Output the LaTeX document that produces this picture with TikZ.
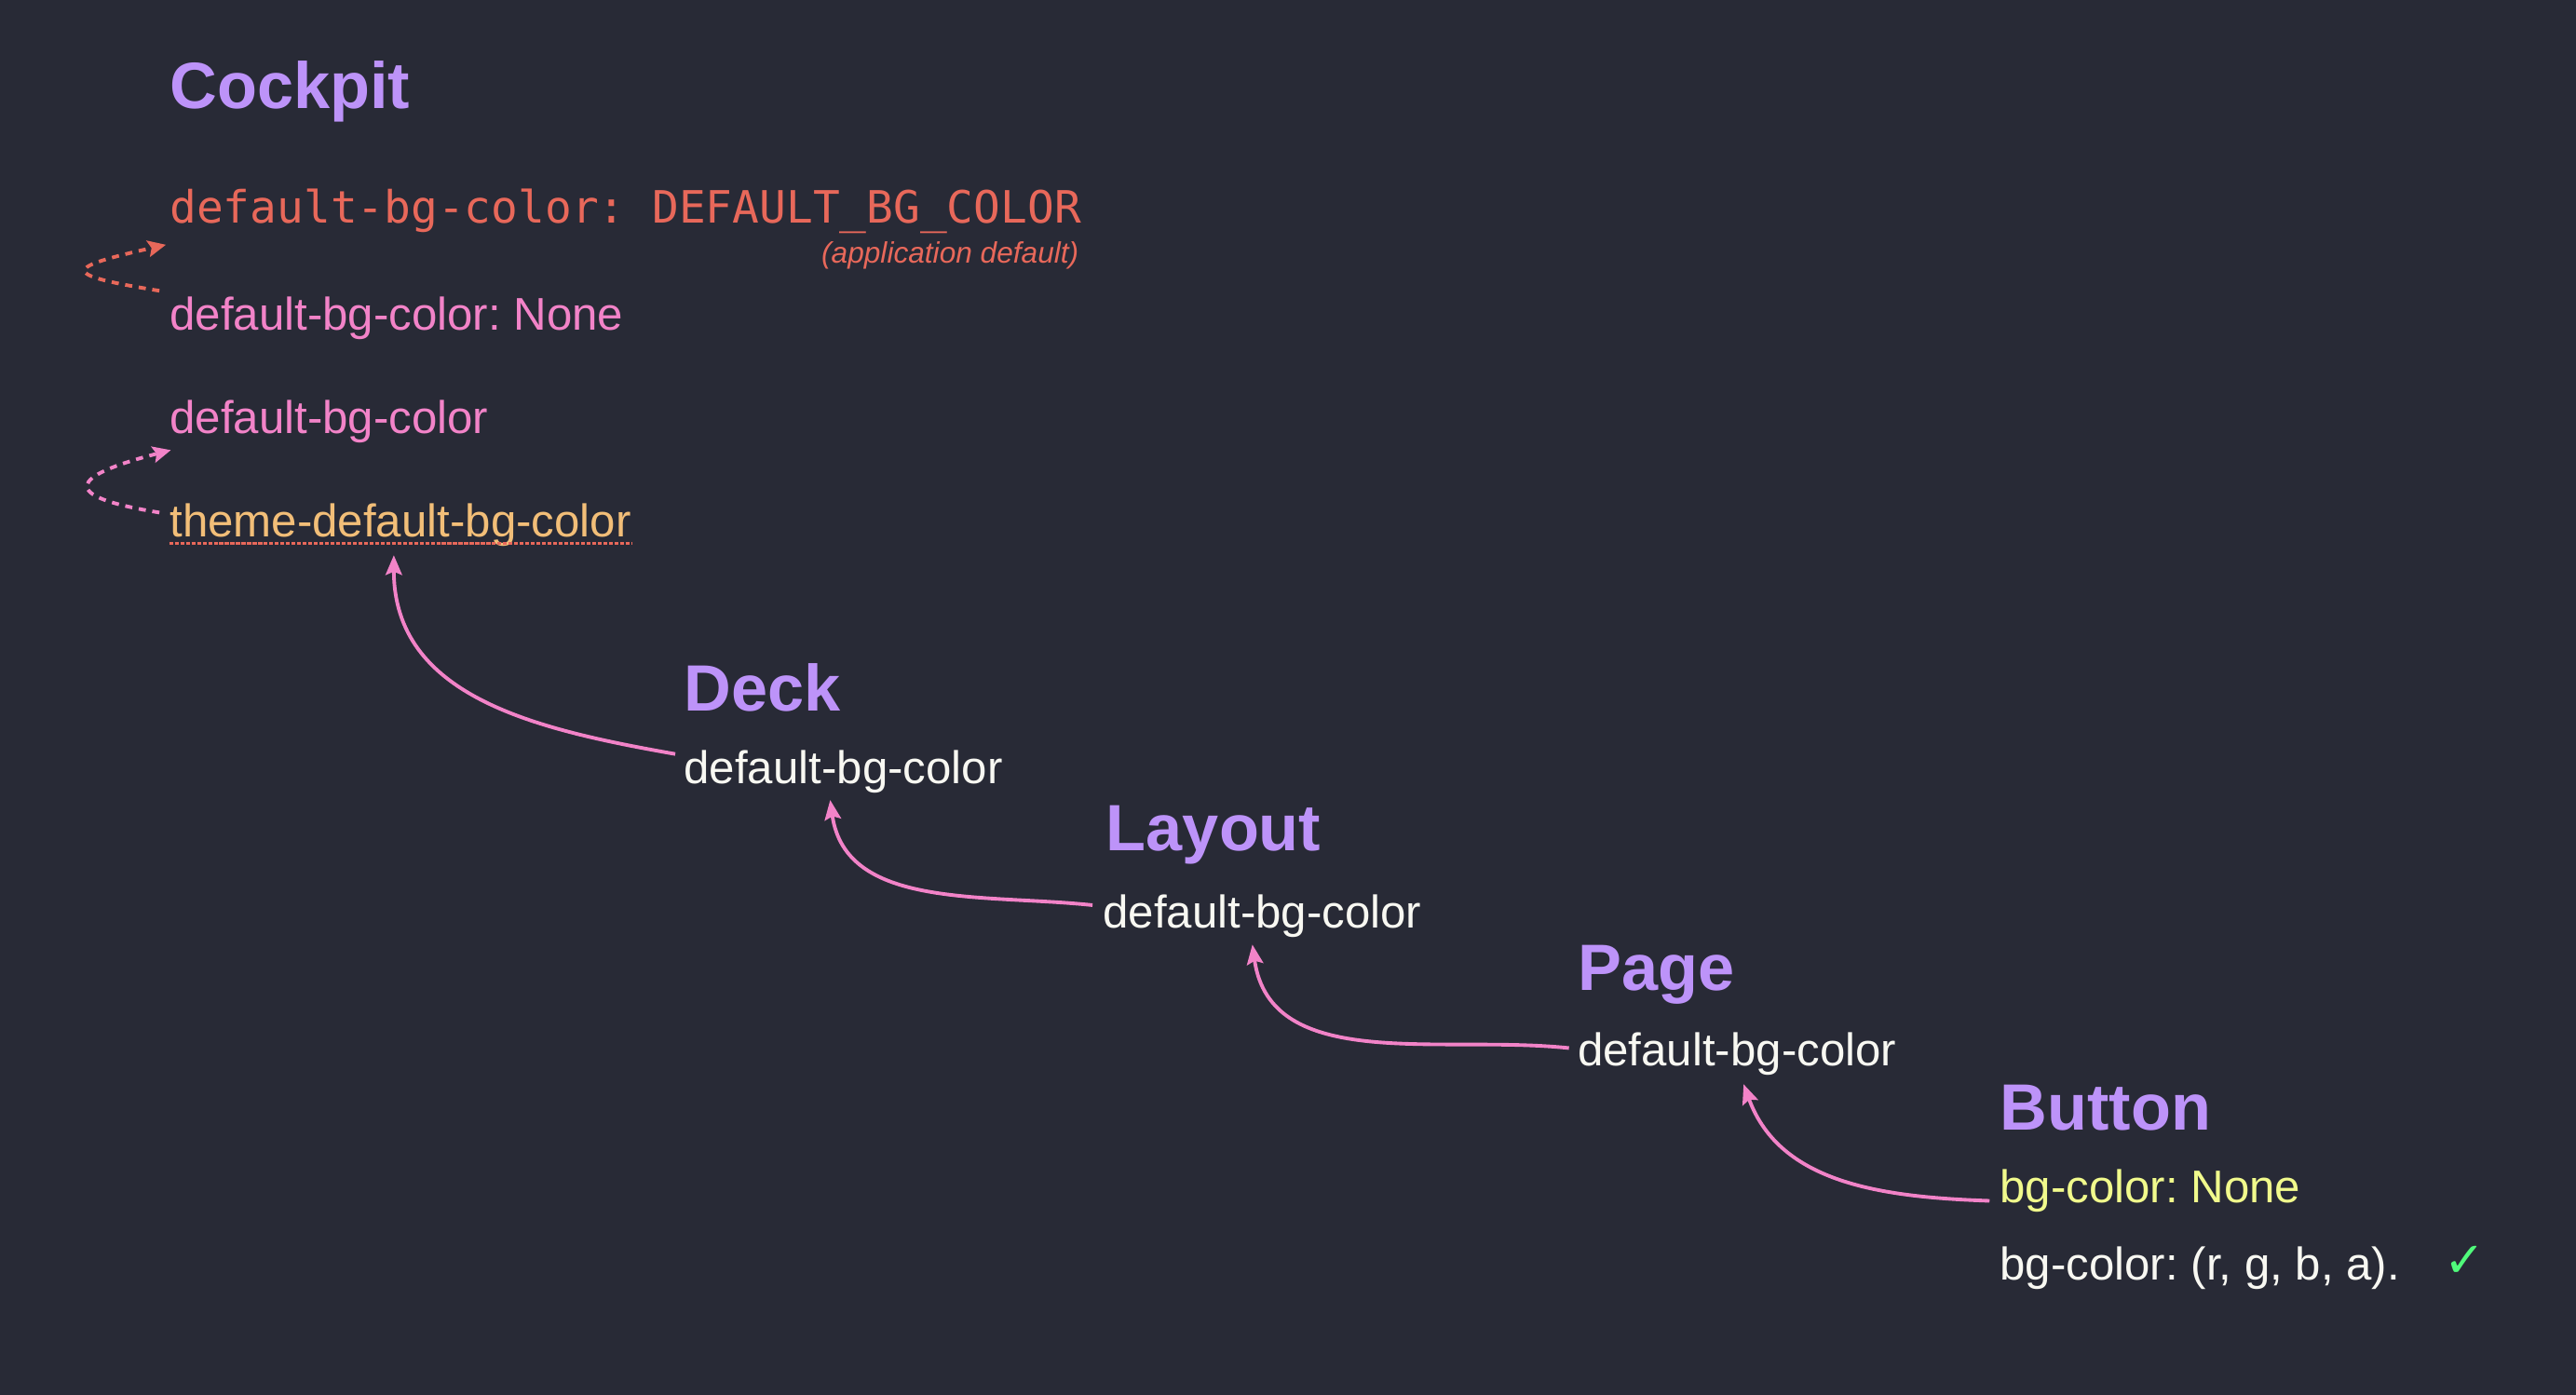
\documentclass[tikz,border=0pt]{standalone}
\usepackage{fontspec}
\setmainfont{Liberation Sans}
\setmonofont{DejaVu Sans Mono}
\newfontfamily\symfont{DejaVu Sans}
\usetikzlibrary{arrows.meta,calc}
\frenchspacing

\definecolor{bgdark}{HTML}{282A36}
\definecolor{headviolet}{HTML}{BD93F9}
\definecolor{fgwhite}{HTML}{F8F8F2}
\definecolor{pinkc}{HTML}{F283C8}
\definecolor{redc}{HTML}{E8685A}
\definecolor{orangec}{HTML}{F2BE78}
\definecolor{yellowc}{HTML}{F1FA8C}
\definecolor{greenc}{HTML}{50FA7B}

\begin{document}
\begin{tikzpicture}[x=0.01764cm,y=0.01764cm]
		\tikzset{head/.style = {inner sep=0pt, anchor=base west, text=headviolet, font=\fontsize{20}{24}\selectfont\bfseries},
			val/.style = {inner sep=0pt, anchor=base west, text=fgwhite, font=\fontsize{14}{17}\selectfont},
			link/.style = {draw=pinkc, line width=1.1pt, -{Stealth[length=6pt,width=5pt,inset=1pt]}},
			fallback/.style = {line width=1.1pt, dash pattern=on 2.2pt off 2pt, -{Stealth[length=5.5pt,width=5pt,inset=1pt]}}}

		\fill[bgdark] (0,0) rectangle (1568,849);

		\node[head] (cockpit) at (103,783) {Cockpit};
		\node[val, text=redc, font=\fontsize{13.6}{16}\selectfont\ttfamily] (c_1) at (103,713) {default-bg-color: DEFAULT\_BG\_COLOR};
		\node[inner sep=0pt, anchor=base east, text=redc, font=\fontsize{9}{11}\selectfont\itshape] (c_note) at (657,689) {(application default)};
		\node[val, text=pinkc] (c_2) at (103,648) {default-bg-color: None};
		\node[val, text=pinkc] (c_3) at (103,585) {default-bg-color};
		\node[val, text=orangec] (c_4) at (103,522) {theme-default-bg-color};

		\node[head] (deck) at (416,416) {Deck};
		\node[val] (d_1) at (416,372) {default-bg-color};

		\node[head] (layout) at (673,331) {Layout};
		\node[val] (l_1) at (671,284) {default-bg-color};

		\node[head] (page) at (960,246) {Page};
		\node[val] (p_1) at (960,200) {default-bg-color};

		\node[head] (button) at (1217,161) {Button};
		\node[val, text=yellowc] (b_1) at (1217,117) {bg-color: None};
		\node[val] (b_2) at (1217,70) {bg-color: (r, g, b, a).};
		\node[inner sep=0pt, text=greenc, font=\fontsize{15}{17}\selectfont\symfont] (check) at (1500,81) {✓};

		% underline of the theme value
		\draw[redc, line width=0.9pt, dash pattern=on 1.2pt off 0.5pt] ($(c_4.base west)+(0,-4)$) -- ($(c_4.base east)+(0,-4)$);

		\draw[fallback, redc] ($(c_2.base west)+(-6,24)$) .. controls +(-62,10) and +(-62,-14) .. ($(c_1.base west)+(-2,-13)$);
		\draw[fallback, pinkc] ($(c_4.base west)+(-6,15)$) .. controls +(-62,10) and +(-62,-16) .. ($(c_3.base west)+(1,-10)$);

		\draw[link] ($(d_1.base west)+(-5,18)$) to[out=170,in=-90,looseness=1.05] ($(c_4.base)+(-4,-11)$);
		\draw[link] ($(l_1.base west)+(-6,14)$) to[out=174,in=-82] ($(d_1.base)+(-8,-10)$);
		\draw[link] ($(p_1.base west)+(-5,11)$) to[out=174,in=-82] ($(l_1.base)+(-6,-10)$);
		\draw[link] ($(b_1.base west)+(-6,1)$) to[out=178,in=-70] ($(p_1.base)+(4,-11)$);

	\end{tikzpicture}
\end{document}
